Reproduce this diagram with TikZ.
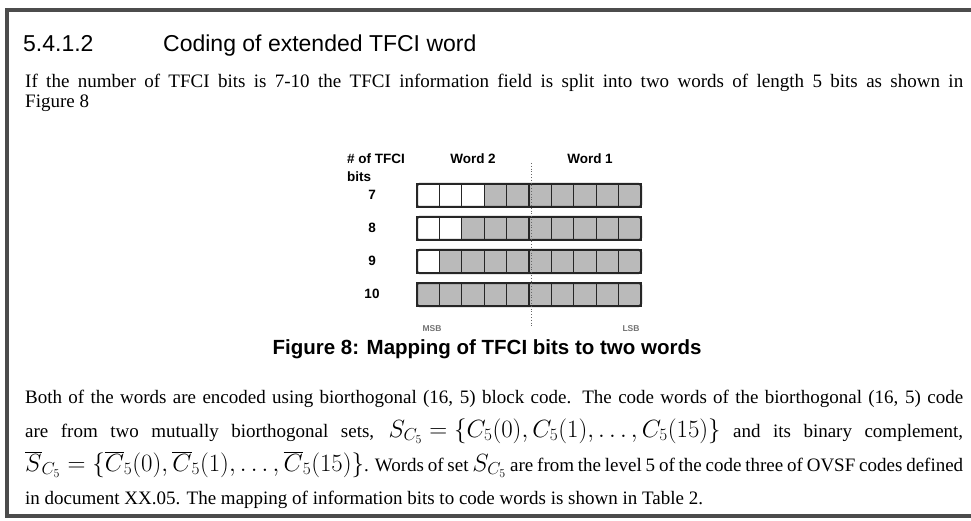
\documentclass[tikz,border=0pt]{standalone}
\usepackage{fontspec}
\setmainfont{Liberation Serif}
\setsansfont{Liberation Sans}
\tikzset{
  bitcell/.style={draw=black!85,line width=1.1pt},
  bitrow/.style={draw=black!85,line width=2pt,rounded corners=2pt},
  txtline/.style={anchor=base west,inner sep=0pt},
  lbl/.style={font=\sffamily\bfseries\fontsize{13.5}{15}\selectfont,inner sep=0pt},
  tinylbl/.style={font=\sffamily\bfseries\fontsize{8.5}{10}\selectfont,inner sep=0pt,black!55},
}
\newcommand{\bodyfont}{\fontsize{19}{22}\selectfont}
\newcommand{\mathfont}{\fontsize{23.5}{26}\selectfont}
\newcommand{\headfont}{\sffamily\fontsize{23}{26}\selectfont}
\newcommand{\wideline}[1]{\makebox[938pt][s]{#1}}

\begin{document}
\begin{tikzpicture}[x=1pt,y=-1pt]
\useasboundingbox (0,0) rectangle (971,521);
%FRAME
  \draw[line width=3.5pt,black!70] (7,10) rectangle (975,516);

%HEADING
  \node (secnum) at (23,52) [txtline] {\headfont 5.4.1.2};
  \node (sectitle) at (163,52) [txtline] {\headfont Coding of extended TFCI word};

%TEXT ABOVE
  \node (intro1) at (25,88) [txtline] {\bodyfont\wideline{If the number of TFCI bits is 7-10 the TFCI information field is split into two words of length 5 bits as shown in}};
  \node (intro2) at (25,108) [txtline] {\bodyfont Figure 8};

%BIT ROWS
\pgfmathsetmacro{\cw}{22.4}
\foreach \r in {0,...,3}{
  \pgfmathsetmacro{\yt}{184+33*\r}
  \pgfmathtruncatemacro{\nb}{7+\r}
  \foreach \c in {0,...,9}{
    \pgfmathtruncatemacro{\ff}{\c<3-\r ? 0 : 27}
    \draw[bitcell,fill=black!\ff] ({417+\cw*\c},\yt) rectangle ++(\cw,23);
  }
  \draw[bitrow] (417,\yt) rectangle ++(224,23);
  \node (n\nb) at (372,\yt+11) [lbl] {\nb};
}
  \draw[dotted,line width=0.8pt,black!60] (531,163) -- (531,328);

  \node (nof) at (347,159) [lbl,anchor=west] {\# of TFCI};
  \node (nbits) at (347,177) [lbl,anchor=west] {bits};
  \node (word2) at (473,159) [lbl] {Word 2};
  \node (word1) at (590,159) [lbl] {Word 1};
  \node (msb) at (432,329) [tinylbl] {MSB};
  \node (lsb) at (631,329) [tinylbl] {LSB};

  \node (caption) at (487,349) {\sffamily\bfseries\fontsize{20.5}{23}\selectfont Figure 8: Mapping of TFCI bits to two words};

%TEXT BELOW
  \node (body1) at (25,403) [txtline] {\bodyfont\wideline{Both of the words are encoded using biorthogonal (16, 5) block code. The code words of the biorthogonal (16, 5) code}};
  \node (body2) at (25,437) [txtline] {\bodyfont\wideline{are from two mutually biorthogonal sets, \mbox{\mathfont $S_{C_5}=\bigg\{C_5(0),C_5(1),\ldots,C_5(15)\bigg\}$} and its binary complement,}};
  \node (body3) at (25,471) [txtline] {\bodyfont\wideline{\mbox{\mathfont $\overline{S}_{C_5}=\bigg\{\overline{C}_5(0),\overline{C}_5(1),\ldots,\overline{C}_5(15)\bigg\}$}. Words of set \mbox{\mathfont $S_{C_5}$} are from the level 5 of the code three of OVSF codes defined}};
  \node (body4) at (25,504) [txtline] {\bodyfont in document XX.05. The mapping of information bits to code words is shown in Table 2.};
\end{tikzpicture}
\end{document}
